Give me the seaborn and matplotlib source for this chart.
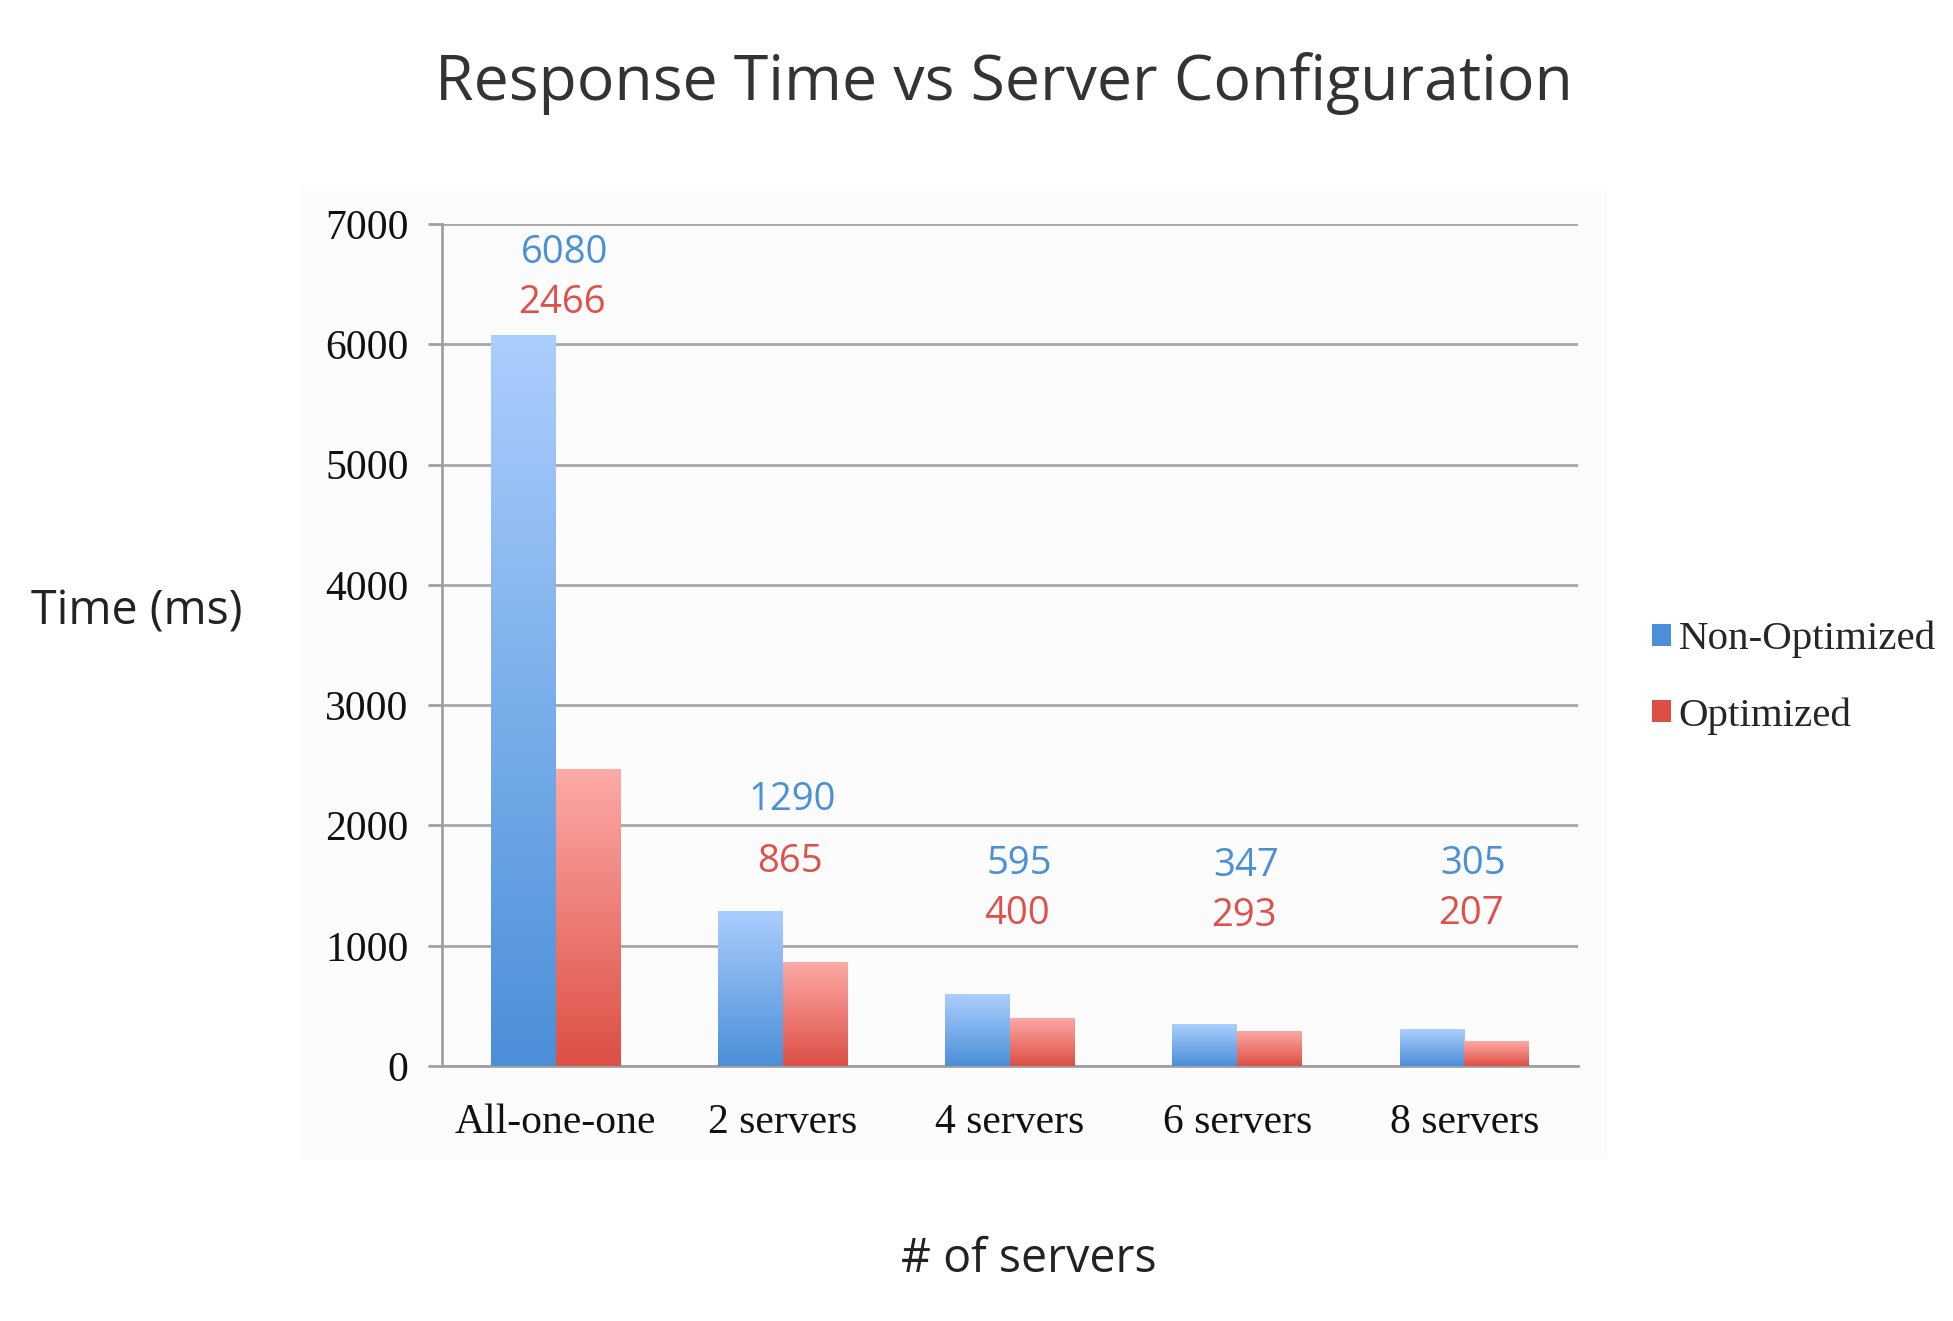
import pandas as pd
import matplotlib.pyplot as plt
import seaborn as sns
import numpy as np
from matplotlib.patches import Patch, Rectangle
from matplotlib.colors import LinearSegmentedColormap

# data
configs = ['All-one-one', '2 servers', '4 servers', '6 servers', '8 servers']
non_optimized = [6080, 1290, 595, 347, 305]
optimized = [2466, 865, 400, 293, 207]
series_names = ['Non-Optimized', 'Optimized']

# where the value labels sit (data units), one pair per group
label_top = [6760, 2210, 1680, 1660, 1680]
label_bottom = [6340, 1700, 1260, 1245, 1260]

df = pd.DataFrame({
    'config': configs * 2,
    'time': non_optimized + optimized,
    'type': [series_names[0]] * 5 + [series_names[1]] * 5,
})

blue_top, blue_bot = '#abcefd', '#4b8fd8'
red_top, red_bot = '#fdaaa6', '#dc4f45'
blue_txt, red_txt = '#4a90d9', '#e0504a'

sns.set_style('white')
plt.rcParams['font.family'] = ['Open Sans', 'DejaVu Sans']

fig = plt.figure(figsize=(19.53, 13.21), dpi=100)
fig.patches.append(Rectangle((0.153, 0.123), 0.67, 0.736, transform=fig.transFigure,
                             facecolor='#fcfcfc', edgecolor='none', zorder=-10))
ax = fig.add_axes([0.2263, 0.193, 0.5817, 0.6374])
ax.set_facecolor('none')

sns.barplot(data=df, x='config', y='time', hue='type',
            palette=[blue_bot, red_bot], width=0.57, dodge=True,
            legend=False, ax=ax, zorder=3)

# vertical gradient fill on each bar
grad = np.linspace(0, 1, 256).reshape(-1, 1)
for cont, (top, bot) in zip(ax.containers, [(blue_top, blue_bot), (red_top, red_bot)]):
    cmap = LinearSegmentedColormap.from_list('g', [bot, top])
    for bar in cont:
        x, w, h = bar.get_x(), bar.get_width(), bar.get_height()
        bar.set_facecolor('none')
        bar.set_edgecolor('none')
        im = ax.imshow(grad, extent=[x, x + w, 0, h], origin='lower',
                       aspect='auto', cmap=cmap, zorder=3)
        im.set_clip_path(bar)

ax.set_xlim(-0.5, 4.5)
ax.set_ylim(0, 7000)
ax.set_yticks(range(0, 7001, 1000))
ax.grid(axis='y', color='#a6a6a6', linewidth=2, zorder=0)
ax.grid(axis='x', visible=False)

for s in ['top', 'right']:
    ax.spines[s].set_visible(False)
for s in ['left', 'bottom']:
    ax.spines[s].set_color('#a0a0a0')
    ax.spines[s].set_linewidth(2)

ax.set_xticks(np.arange(-0.5, 5, 1), minor=True)
ax.tick_params(axis='x', which='major', length=0, pad=27)
ax.tick_params(axis='x', which='minor', length=10, width=2, color='#a0a0a0', direction='out')
ax.tick_params(axis='y', length=10, width=2, color='#a0a0a0', direction='out', pad=14, left=True)
for lab in ax.get_xticklabels() + ax.get_yticklabels():
    lab.set_fontfamily('Liberation Serif')
    lab.set_fontsize(30)
    lab.set_color('#111111')

ax.set_xlabel('')
ax.set_ylabel('')

# value labels
for i in range(len(configs)):
    ax.text(i + 0.04, label_top[i], str(non_optimized[i]), color=blue_txt,
            fontsize=27.5, ha='center', va='center', zorder=5)
    ax.text(i + 0.03, label_bottom[i], str(optimized[i]), color=red_txt,
            fontsize=27.5, ha='center', va='center', zorder=5)

fig.text(0.514, 0.937, 'Response Time vs Server Configuration', fontsize=45,
         ha='center', va='center', color='#333333')
fig.text(0.07, 0.537, 'Time (ms)', fontsize=33.5, ha='center', va='center', color='#222222')
fig.text(0.527, 0.047, '# of servers', fontsize=33.5, ha='center', va='center', color='#222222')

handles = [Patch(facecolor=blue_bot, edgecolor='none'), Patch(facecolor=red_bot, edgecolor='none')]
leg = fig.legend(handles, series_names, loc='center left', bbox_to_anchor=(0.846, 0.487),
                 frameon=False, prop={'family': 'Liberation Serif', 'size': 29.5},
                 borderpad=0, borderaxespad=0,
                 handlelength=0.45, handleheight=0.45, handletextpad=0.2, labelspacing=0.95)

fig.savefig('out.png', dpi=100)
